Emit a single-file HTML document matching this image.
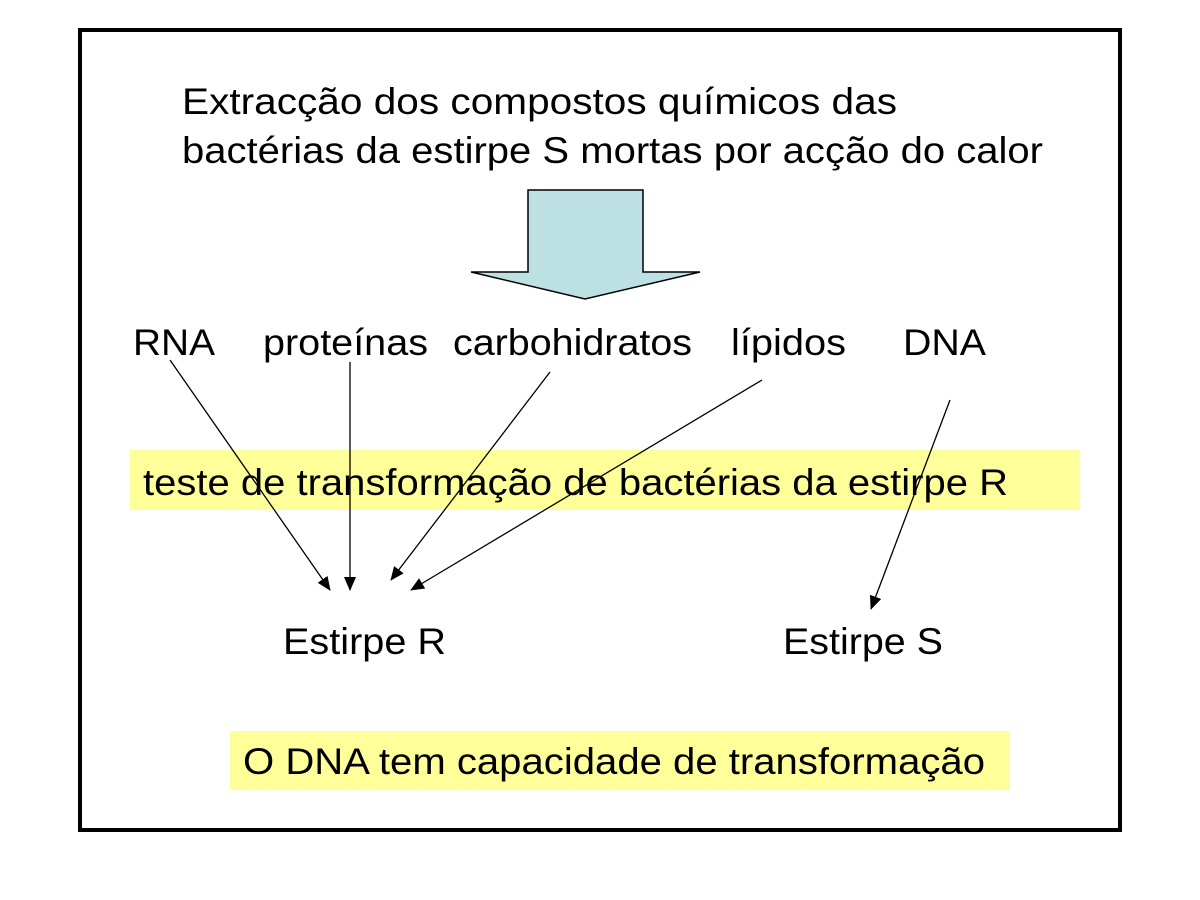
<!DOCTYPE html>
<html><head><meta charset="utf-8"><style>html,body{margin:0;padding:0;background:#fff;}svg{display:block}</style></head>
<body>
<svg width="1200" height="900" xmlns="http://www.w3.org/2000/svg" font-family="Liberation Sans, Arial, sans-serif" font-size="37" fill="#000">
<defs><marker id="a" markerWidth="14" markerHeight="12" refX="13" refY="6" orient="auto" markerUnits="userSpaceOnUse"><path d="M0,0 L14,6 L0,12 z" fill="#000"/></marker></defs>
<rect x="80" y="30" width="1040" height="800" fill="#fff" stroke="#000" stroke-width="4"/>
<rect x="130" y="450" width="950" height="60" fill="#ffff99"/>
<rect x="230" y="731" width="780" height="59" fill="#ffff99"/>
<text x="182" y="114" textLength="715" lengthAdjust="spacingAndGlyphs">Extracção dos  compostos químicos das</text>
<text x="182" y="163" textLength="861" lengthAdjust="spacingAndGlyphs">bactérias da estirpe S mortas por acção do calor</text>
<path d="M528,190 L643,190 L643,272 L700,272 L585,299 L471,272 L528,272 Z" fill="#bde0e3" stroke="#000" stroke-width="1.5"/>
<text x="133" y="355" textLength="82" lengthAdjust="spacingAndGlyphs">RNA</text>
<text x="263" y="355" textLength="165" lengthAdjust="spacingAndGlyphs">proteínas</text>
<text x="453" y="355" textLength="239" lengthAdjust="spacingAndGlyphs">carbohidratos</text>
<text x="731" y="355" textLength="115" lengthAdjust="spacingAndGlyphs">lípidos</text>
<text x="903" y="355" textLength="83" lengthAdjust="spacingAndGlyphs">DNA</text>
<text x="143" y="495" textLength="865" lengthAdjust="spacingAndGlyphs">teste de transformação de bactérias da estirpe R</text>
<g stroke="#000" stroke-width="1.3">
<line x1="170" y1="360" x2="330" y2="590" marker-end="url(#a)"/>
<line x1="350" y1="362" x2="350" y2="590" marker-end="url(#a)"/>
<line x1="550" y1="372" x2="391" y2="580" marker-end="url(#a)"/>
<line x1="762" y1="380" x2="411" y2="590" marker-end="url(#a)"/>
<line x1="950" y1="400" x2="871" y2="609" marker-end="url(#a)"/>
</g>
<text x="283" y="654" textLength="163" lengthAdjust="spacingAndGlyphs">Estirpe R</text>
<text x="783" y="654" textLength="160" lengthAdjust="spacingAndGlyphs">Estirpe S</text>
<text x="243" y="774" textLength="742" lengthAdjust="spacingAndGlyphs">O DNA tem capacidade de transformação</text>
</svg>
</body></html>
